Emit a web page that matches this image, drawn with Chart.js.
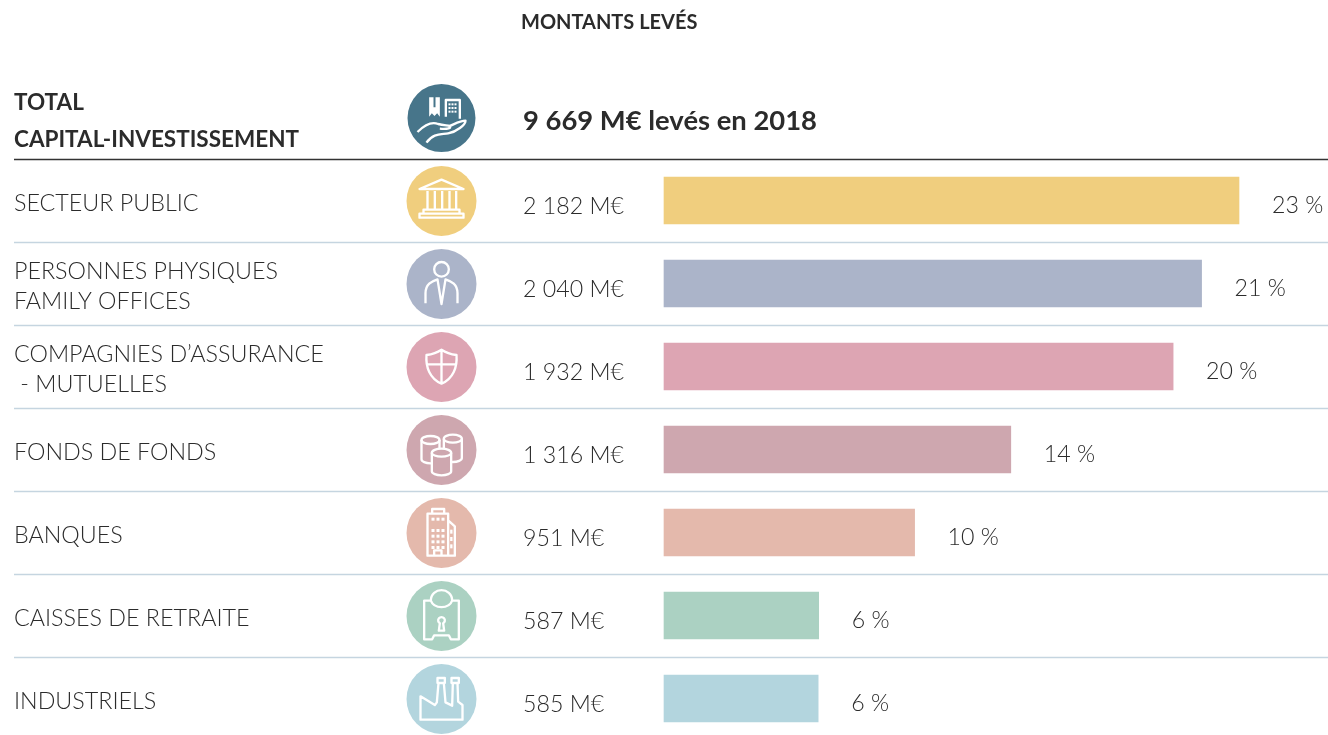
<!DOCTYPE html>
<html lang="fr">
<head>
<meta charset="utf-8">
<title>Montants levés</title>
<script src="https://cdn.jsdelivr.net/npm/chart.js@4"></script>
<style>
    html, body { margin: 0; background: #fff; overflow: hidden; }
    canvas { display: block; }
</style>
</head>
<body>
<canvas id="chart-bar" width="1328" height="735"></canvas>
<script>
// data
const categories = [
    "SECTEUR PUBLIC",
    ["PERSONNES PHYSIQUES", "FAMILY OFFICES"],
    ["COMPAGNIES D\u2019ASSURANCE", " - MUTUELLES"],
    "FONDS DE FONDS",
    "BANQUES",
    "CAISSES DE RETRAITE",
    "INDUSTRIELS"
];
const amounts = [2182, 2040, 1932, 1316, 951, 587, 585];
const amountLabels = ["2 182 M€", "2 040 M€", "1 932 M€", "1 316 M€", "951 M€", "587 M€", "585 M€"];
const percentLabels = ["23 %", "21 %", "20 %", "14 %", "10 %", "6 %", "6 %"];
const colors = ['#f0ce7e', '#abb4c9', '#dda5b3', '#cea7af', '#e4b9ac', '#abd1c2', '#b3d5de'];
const totalLabel = ["TOTAL", "CAPITAL-INVESTISSEMENT"];
const totalText = "9 669 M€ levés en 2018";
const titleText = "MONTANTS LEVÉS";

const FONT = 'Lato';

// icons, drawn white on the circles (units are 1/3 px, origin is the circle centre)
const icons = [
    // bank
    (c) => {
        line(c, 'M-66 -36 L0 -64 L66 -36 Z M-42 -30 V24 M-20 -30 V24 M2 -30 V24 M24 -30 V24 M44 -30 V24 M-54 26 H54 V38 H-54 Z M-66 38 H66 V50 H-66 Z');
    },
    // person
    (c) => {
        line(c, 'M-48 58 V28 C-48 0 -30 -8 -12 -14 L0 60 L12 -14 C30 -8 48 0 48 28 V58');
        c.beginPath(); c.arc(0, -44, 22, 0, Math.PI * 2); c.stroke();
    },
    // shield
    (c) => {
        line(c, 'M0 -52 C15 -42 30 -38 45 -36 C48 0 35 35 0 50 C-35 35 -48 0 -45 -36 C-30 -38 -15 -42 0 -52 Z M0 -52 V50 M-44 -8 H44');
    },
    // cylinders
    (c, color) => {
        cylinder(c, -33, -30, 27, 58, color);
        cylinder(c, 34, -34, 27, 58, color);
        cylinder(c, 0, 8, 29, 56, color);
    },
    // building
    (c) => {
        line(c, 'M-28 -58 V-72 H8 V-58 M-42 68 V-58 H20 V68 Z M20 -38 L40 -20 V68 H20 M-22 68 V52 H0 V68');
        c.fillStyle = '#fff';
        for (let row = 0; row < 6; row++) {
            if (row === 1) continue;
            for (let col = 0; col < 3; col++) {
                c.fillRect(-30 + col * 15, -46 + row * 17, 9, 9);
            }
        }
        c.fillRect(26, -10, 7, 12);
        c.fillRect(26, 12, 7, 12);
        c.fillRect(26, 34, 7, 12);
    },
    // safe
    (c) => {
        line(c, 'M-52 -46 H-32 C-32 -88 32 -88 32 -46 H52 V70 H28 L22 58 H-22 L-28 70 H-52 Z M-32 -46 C-22 -20 22 -20 32 -46');
        line(c, 'M-8 44 L-5 22 A10 10 0 1 1 5 22 L8 44 Z');
    },
    // factory
    (c) => {
        line(c, 'M-63 62 V-8 L-20 18 L-14 10 L-9 -48 H7 L12 10 L32 20 L34 -48 H48 L50 8 L63 18 V62 Z M-12 -63 H10 V-48 H-12 Z M30 -63 H52 V-48 H30 Z');
    }
];

function line(c, d) {
    c.stroke(new Path2D(d));
}

function cylinder(c, x, top, rx, h, color) {
    const ry = 12;
    c.beginPath();
    c.moveTo(x - rx, top);
    c.ellipse(x, top, rx, ry, 0, Math.PI, 0);
    c.lineTo(x + rx, top + h);
    c.ellipse(x, top + h, rx, ry, 0, 0, Math.PI);
    c.closePath();
    c.fillStyle = color;
    c.fill();
    c.stroke();
    c.beginPath();
    c.ellipse(x, top, rx, ry, 0, 0, Math.PI);
    c.stroke();
}

function headerIcon(c) {
    // plant
    c.fillStyle = '#fff';
    c.fill(new Path2D('M-37 -62 H-24 V-32 H-18 V-62 H-5 V-4 L-13 -14 L-21 -6 L-29 -14 L-37 -4 Z'));
    // office
    line(c, 'M13 -4 V-54 H55 V2');
    for (let row = 0; row < 3; row++) {
        for (let col = 0; col < 3; col++) {
            c.fillRect(21 + col * 9, -44 + row * 11, 6, 6);
        }
    }
    // hand
    line(c, 'M-72 42 C-50 20 -30 10 -10 18 C5 22 15 22 25 24 C30 30 20 34 -5 32 M20 26 C40 18 55 8 72 8 C72 20 45 42 20 46 C0 50 -25 44 -45 74');
}

const tablePlugin = {
    id: 'table',
    afterDraw(chart) {
        const c = chart.ctx;
        const yScale = chart.scales.y;
        const xScale = chart.scales.x;
        const rowHeight = yScale.getPixelForValue(1) - yScale.getPixelForValue(0);

        c.save();
        c.textBaseline = 'middle';
        c.fillStyle = '#2b2b2b';

        // title
        c.font = `700 20px ${FONT}`;
        c.fillText(titleText, 521, 23);

        // total row
        c.font = `700 22.5px ${FONT}`;
        c.fillText(totalLabel[0], 14, 103);
        c.fillText(totalLabel[1], 14, 140);
        c.font = `700 27.4px ${FONT}`;
        c.fillText(totalText, 523, 121);

        // separators
        categories.forEach((cat, i) => {
            const y = Math.round(yScale.getPixelForValue(i) - rowHeight / 2) + 0.5;
            c.beginPath();
            c.moveTo(14, y);
            c.lineTo(1328, y);
            c.lineWidth = 1.5;
            c.strokeStyle = i === 0 ? '#333333' : '#c5d5e0';
            c.stroke();
        });

        // circles with their icons
        c.beginPath();
        c.arc(441.5, 118, 34, 0, Math.PI * 2);
        c.fillStyle = '#47758a';
        c.fill();
        c.save();
        c.translate(441.5, 118);
        c.scale(1 / 3, 1 / 3);
        c.strokeStyle = '#fff';
        c.lineWidth = 7;
        c.lineJoin = 'round';
        headerIcon(c);
        c.restore();

        amounts.forEach((value, i) => {
            const y = yScale.getPixelForValue(i);
            c.beginPath();
            c.arc(441.5, y + 0.5, 35, 0, Math.PI * 2);
            c.fillStyle = colors[i];
            c.fill();
            c.save();
            c.translate(441.5, y + 0.5);
            c.scale(1 / 3, 1 / 3);
            c.strokeStyle = '#fff';
            c.lineWidth = 7;
            c.lineJoin = 'round';
            icons[i](c, colors[i]);
            c.restore();

            // amount and share
            c.fillStyle = '#2b2b2b';
            c.font = `300 23.2px ${FONT}`;
            c.fillText(amountLabels[i], 523, y + 6);
            c.fillText(percentLabels[i], xScale.getPixelForValue(value) + 33, y + 5);
        });
        c.restore();
    }
};

// bar chart
const chartbar = document.getElementById('chart-bar');

new Chart(chartbar, {
    type: 'bar',
    plugins: [tablePlugin],
    data: {
        labels: categories,
        datasets: [{
            data: amounts,
            backgroundColor: colors,
            barThickness: 47,
            clip: false
        }]
    },
    options: {
        indexAxis: 'y',
        responsive: false,
        animation: false,
        layout: {
            padding: { left: 14, right: 89, top: 200.5, bottom: 36.5 }
        },
        plugins: {
            legend: { display: false },
            title: { display: false },
            tooltip: { enabled: false }
        },
        scales: {
            x: { display: false, min: 0, max: 2182 },
            y: {
                offset: false,
                border: { display: false },
                grid: { display: false },
                afterFit(scale) { scale.width = 650; },
                ticks: {
                    autoSkip: false,
                    crossAlign: 'far',
                    labelOffset: 3,
                    color: '#2b2b2b',
                    font: { family: FONT, weight: '300', size: 23.3, lineHeight: 1.32 }
                }
            }
        }
    }
});
</script>
</body>
</html>
